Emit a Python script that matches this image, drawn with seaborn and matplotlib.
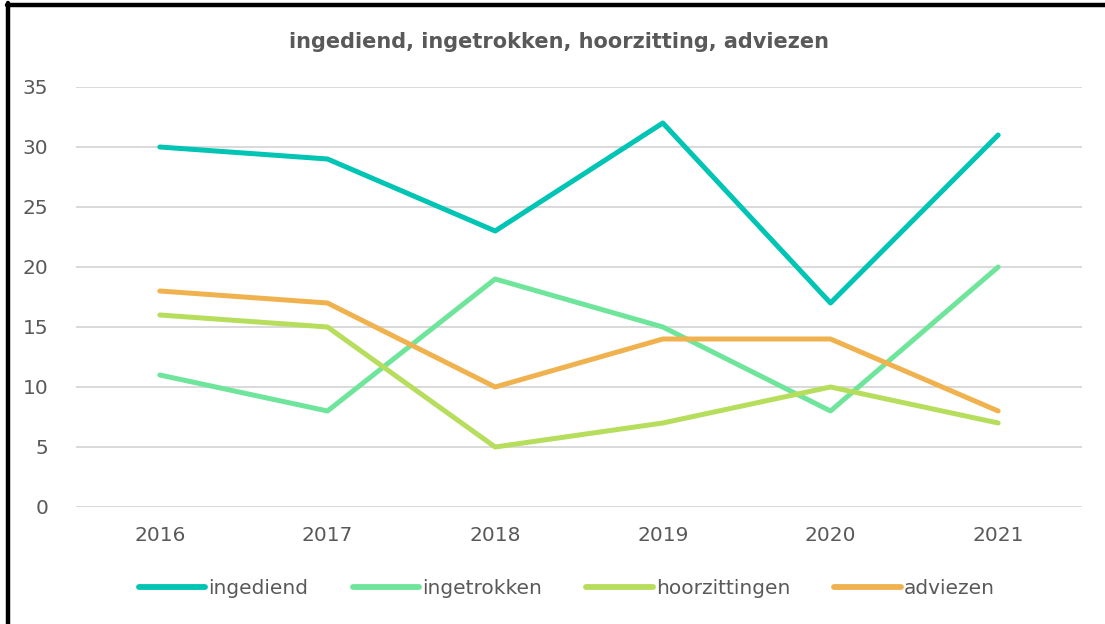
import matplotlib
matplotlib.use("Agg")
import matplotlib.pyplot as plt
import seaborn as sns
import pandas as pd
from matplotlib.lines import Line2D

years = ["2016", "2017", "2018", "2019", "2020", "2021"]
ingediend = [30, 29, 23, 32, 17, 31]
ingetrokken = [11, 8, 19, 15, 8, 20]
hoorzittingen = [16, 15, 5, 7, 10, 7]
adviezen = [18, 17, 10, 14, 14, 8]

series = {
    "ingediend": ingediend,
    "ingetrokken": ingetrokken,
    "hoorzittingen": hoorzittingen,
    "adviezen": adviezen,
}
colors = ["#00C4B4", "#6FE59B", "#B6DE5C", "#F0B24F"]

rows = []
for name, vals in series.items():
    for y, v in zip(years, vals):
        rows.append({"jaar": y, "waarde": v, "reeks": name})
df = pd.DataFrame(rows)

sns.set_style("white")
plt.rcParams["font.family"] = ["DejaVu Sans"]

fig = plt.figure(figsize=(11.05, 6.24), dpi=100)
ax = fig.add_axes([76 / 1105, 1 - 507 / 624, (1082 - 76) / 1105, (507 - 87) / 624])

sns.lineplot(data=df, x="jaar", y="waarde", hue="reeks", palette=colors,
             linewidth=3.6, ax=ax, sort=False, legend=False)
for line in ax.lines:
    line.set_solid_capstyle("round")
    line.set_solid_joinstyle("round")

ax.set_xlim(-0.5, 5.5)
ax.set_ylim(0, 35)
ax.set_yticks(range(0, 36, 5))
ax.yaxis.grid(True, color="#D9D9D9", linewidth=1.4)
ax.set_axisbelow(True)
for s in ax.spines.values():
    s.set_visible(False)
ax.set_xlabel("")
ax.set_ylabel("")
ax.tick_params(axis="both", length=0, labelsize=14.5, colors="#595959")
ax.tick_params(axis="x", pad=14)
ax.tick_params(axis="y", pad=20)

fig.text(0.506, 1 - 42 / 624, "ingediend, ingetrokken, hoorzitting, adviezen",
         ha="center", va="center", fontsize=15, fontweight="bold",
         color="#595959", family="DejaVu Sans")

handles = [Line2D([0], [0], color=c, linewidth=4.2, solid_capstyle="round")
           for c in colors]
fig.legend(handles, list(series.keys()), loc="center", ncol=4,
           bbox_to_anchor=(0.513, 1 - 589 / 624), frameon=False,
           fontsize=14.5, labelcolor="#595959", handlelength=3.3,
           handletextpad=0.15, columnspacing=2.2)

fig.add_artist(Line2D([7 / 1105, 1], [1 - 5 / 624, 1 - 5 / 624],
                      transform=fig.transFigure, color="black", linewidth=3.2))
fig.add_artist(Line2D([8 / 1105, 8 / 1105], [0, 1 - 3 / 624],
                      transform=fig.transFigure, color="black", linewidth=3.2))

fig.savefig("out.png", dpi=100)
